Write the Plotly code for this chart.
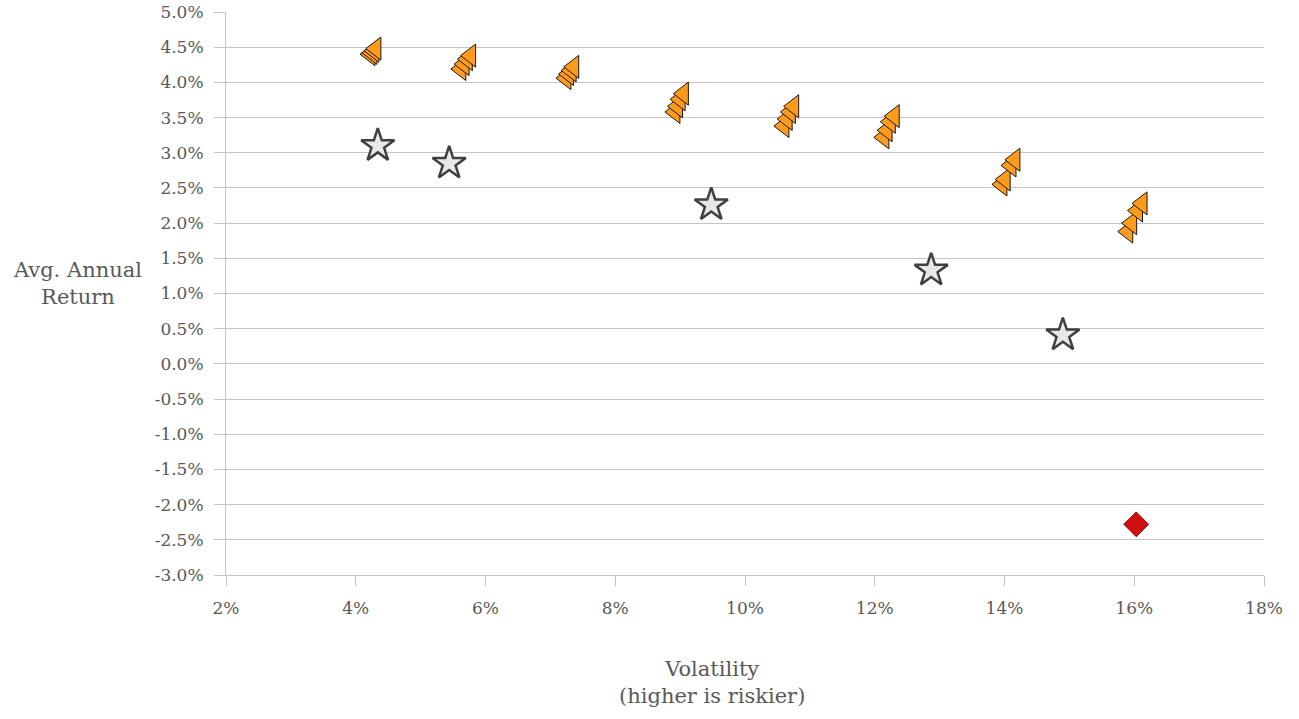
import plotly.graph_objects as go

# Triangle series (volatility %, avg annual return %)
vol_a = [4.22, 5.62, 7.24, 8.92, 10.60, 12.14, 13.96, 15.90]
ret_a = [4.40, 4.19, 4.06, 3.58, 3.38, 3.22, 2.55, 1.88]
vol_b = [4.25, 5.67, 7.28, 8.96, 10.65, 12.19, 14.01, 15.96]
ret_b = [4.42, 4.26, 4.12, 3.66, 3.48, 3.32, 2.62, 2.00]
vol_c = [4.28, 5.72, 7.32, 9.00, 10.70, 12.24, 14.10, 16.05]
ret_c = [4.45, 4.33, 4.17, 3.76, 3.58, 3.44, 2.82, 2.18]
vol_d = [4.31, 5.77, 7.36, 9.05, 10.75, 12.30, 14.16, 16.12]
ret_d = [4.48, 4.38, 4.22, 3.84, 3.66, 3.52, 2.90, 2.28]

# Star series
vol_star = [4.34, 5.44, 9.48, 12.87, 14.90]
ret_star = [3.10, 2.85, 2.26, 1.33, 0.41]

# Diamond point
vol_dia = [16.03]
ret_dia = [-2.28]

# Tick labels
y_tickvals = [5.0, 4.5, 4.0, 3.5, 3.0, 2.5, 2.0, 1.5, 1.0, 0.5, 0.0,
              -0.5, -1.0, -1.5, -2.0, -2.5, -3.0]
y_ticktext = ["5.0%", "4.5%", "4.0%", "3.5%", "3.0%", "2.5%", "2.0%", "1.5%",
              "1.0%", "0.5%", "0.0%", "-0.5%", "-1.0%", "-1.5%", "-2.0%",
              "-2.5%", "-3.0%"]
x_tickvals = [2, 4, 6, 8, 10, 12, 14, 16, 18]
x_ticktext = ["2%", "4%", "6%", "8%", "10%", "12%", "14%", "16%", "18%"]

font_family = "DejaVu Serif"
txt = "#595959"
grid = "#c4c4c4"

fig = go.Figure()
for vx, ry in [(vol_a, ret_a), (vol_b, ret_b), (vol_c, ret_c), (vol_d, ret_d)]:
    fig.add_trace(go.Scatter(
        x=vx, y=ry, mode="markers",
        marker=dict(symbol="triangle-left", size=20, color="#ff9a1a",
                    line=dict(color="#1a1a1a", width=1)),
        showlegend=False, hoverinfo="x+y"))

fig.add_trace(go.Scatter(
    x=vol_star, y=ret_star, mode="markers",
    marker=dict(symbol="star", size=25, color="#e8e8e8",
                line=dict(color="#404040", width=2.5)),
    showlegend=False))

fig.add_trace(go.Scatter(
    x=vol_dia, y=ret_dia, mode="markers",
    marker=dict(symbol="diamond", size=19, color="#d01010",
                line=dict(color="#a00000", width=1)),
    showlegend=False))

fig.update_layout(
    width=1299, height=719,
    margin=dict(l=226, r=35, t=12, b=144, autoexpand=False),
    paper_bgcolor="white", plot_bgcolor="white",
    font=dict(family=font_family, size=17, color=txt),
    xaxis=dict(range=[2, 18], tickmode="array", tickvals=x_tickvals,
               ticktext=x_ticktext,
               showgrid=False, zeroline=False, automargin=False,
               showline=True, linecolor=grid, linewidth=1,
               ticks="outside", ticklen=10, tickcolor=grid,
               ticklabelstandoff=8, ticklabeloverflow="allow"),
    yaxis=dict(range=[-3, 5], tickmode="array", tickvals=y_tickvals,
               ticktext=y_ticktext,
               showgrid=True, gridcolor=grid, gridwidth=1, zeroline=False,
               automargin=False,
               showline=True, linecolor=grid, linewidth=1,
               ticks="outside", ticklen=11, tickcolor=grid,
               ticklabelstandoff=7, ticklabeloverflow="allow"),
    annotations=[
        dict(text="Avg. Annual<br>Return", xref="paper", yref="paper",
             x=-0.1426, y=0.517, xanchor="center", yanchor="middle",
             showarrow=False, font=dict(size=21, color=txt, family=font_family)),
        dict(text="Volatility<br>(higher is riskier)", xref="paper", yref="paper",
             x=0.468, y=-0.142, xanchor="center", yanchor="top",
             showarrow=False, font=dict(size=21, color=txt, family=font_family)),
    ],
)

fig.write_html("out.html",
               config={"displayModeBar": False},
               post_script="document.body.style.margin='0';document.body.style.padding='0';")
